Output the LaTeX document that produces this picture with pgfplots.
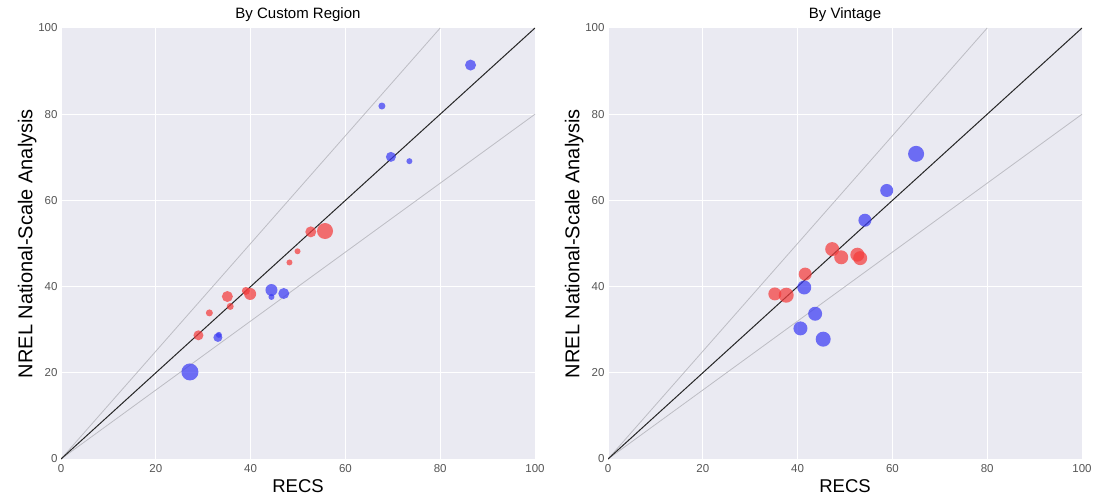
\documentclass[border=0pt]{standalone}
\usepackage{fontspec}
\setmainfont{Liberation Sans}
\usepackage{pgfplots}
\usepackage{pgfplotstable}
\pgfplotsset{compat=1.18}
\definecolor{bg}{HTML}{EAEAF2}
\definecolor{ptred}{HTML}{F43C3C}
\definecolor{ptblue}{HTML}{3C3CF4}
\definecolor{refgray}{HTML}{BDBDC4}
\definecolor{ticktext}{HTML}{555555}

\pgfplotstableread{
x y r
29.0 28.7 5
31.3 33.9 3.5
35.1 37.7 5.5
35.7 35.4 3.5
39.0 39.0 4
39.9 38.3 6
48.2 45.6 3
49.9 48.2 3
52.7 52.7 5.5
55.7 52.9 8
}\leftred
\pgfplotstableread{
x y r
27.2 20.2 8.5
33.1 28.2 4.5
33.3 28.8 3
44.4 39.2 6
44.4 37.6 3
47.0 38.4 5.5
67.7 81.9 3.5
69.6 70.1 5
73.5 69.1 3
86.4 91.4 5.5
}\leftblue
\pgfplotstableread{
x y r
65.0 70.8 8
58.8 62.3 6.5
54.2 55.4 6.5
41.4 39.8 7
43.7 33.7 7
40.6 30.3 7
45.4 27.8 7.5
}\rightblue
\pgfplotstableread{
x y r
47.3 48.7 7
49.2 46.8 7
52.6 47.4 7
53.2 46.6 7
41.6 42.9 6.5
35.2 38.3 6.5
37.6 38.0 7.5
}\rightred

\pgfplotsset{
 seab/.style={
  scale only axis, width=474pt, height=431pt,
  xmin=0,xmax=100,ymin=0,ymax=100,
  xtick={0,20,...,100}, ytick={0,20,...,100},
  axis background/.style={fill=bg},
  axis line style={draw=none},
  major tick length=0pt,
  grid=major, major grid style={white, line width=1pt},
  tick label style={font=\fontsize{11.5}{13}\selectfont, text=ticktext},
  xticklabel style={yshift=-2pt},
  /pgf/number format/assume math mode=true,
  xlabel={RECS}, ylabel={NREL National-Scale Analysis},
  xlabel style={font=\fontsize{18.5}{22}\selectfont},
  ylabel style={font=\fontsize{20}{24}\selectfont, yshift=-5pt},
  title style={font=\fontsize{15}{17}\selectfont, yshift=-3pt},
  anchor=south west,
 },
 pts/.style={
  scatter, only marks, mark=*,
  mark options={draw opacity=0, line width=0pt, fill=#1, fill opacity=0.72},
  visualization depends on={\thisrow{r}\as\rr},
  scatter/@pre marker code/.code={\scope[/tikz/mark size=\rr pt]},
  scatter/@post marker code/.code={\endscope},
 },
}

\begin{document}
\begin{tikzpicture}
\path[use as bounding box] (0,0) rectangle (1094pt,-497pt);
\begin{axis}[seab, at={(61pt,-459pt)}, title={By Custom Region}]
\addplot[refgray, line width=0.8pt] coordinates {(0,0) (80,100)};
\addplot[refgray, line width=0.8pt] coordinates {(0,0) (100,80)};
\addplot[black!85, line width=1pt] coordinates {(0,0) (100,100)};
\addplot[pts=ptred] table {\leftred};
\addplot[pts=ptblue] table {\leftblue};
\end{axis}
\begin{axis}[seab, at={(608pt,-459pt)}, title={By Vintage}]
\addplot[refgray, line width=0.8pt] coordinates {(0,0) (80,100)};
\addplot[refgray, line width=0.8pt] coordinates {(0,0) (100,80)};
\addplot[black!85, line width=1pt] coordinates {(0,0) (100,100)};
\addplot[pts=ptred] table {\rightred};
\addplot[pts=ptblue] table {\rightblue};
\end{axis}
\end{tikzpicture}
\end{document}
